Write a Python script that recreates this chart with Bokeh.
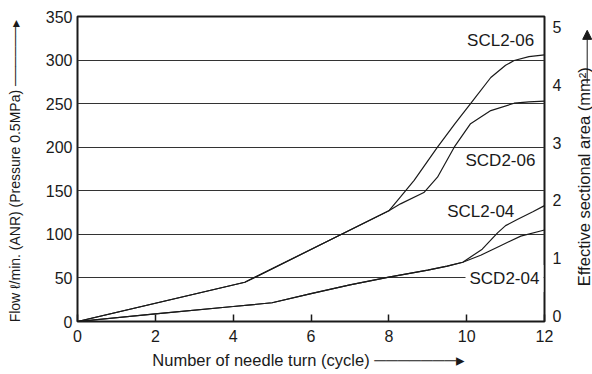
import math
from bokeh.plotting import figure
from bokeh.models import Range1d, LinearAxis, FixedTicker, Label, Arrow, NormalHead
from bokeh.layouts import row
from bokeh.embed import file_html
from bokeh.resources import INLINE

# ---- data ----
scl206_x = [0, 4.3, 8.0, 8.3, 8.65, 9.25, 9.7, 10.1, 10.62, 11.0, 11.22, 11.6, 12]
scl206_y = [0, 45, 127, 143, 162, 200, 227, 250, 280, 294, 299.5, 304, 306]

scd206_x = [0, 4.3, 8.0, 8.3, 8.9, 9.25, 9.68, 10.1, 10.62, 11.22, 11.6, 12]
scd206_y = [0, 45, 127, 135, 148, 165.6, 200, 227, 242, 250.5, 252, 253]

scl204_x = [0, 2, 4, 5, 6, 7, 8, 8.5, 9, 9.5, 9.9, 10.4, 10.8, 11.0, 11.3, 11.7, 12]
scl204_y = [0, 8.8, 17.2, 21.5, 32, 42, 51, 55, 59, 63.5, 68, 83, 102, 110, 117, 126, 133]

scd204_x = [0, 2, 4, 5, 6, 7, 8, 8.5, 9, 9.5, 9.9, 10.36, 10.87, 11.39, 12]
scd204_y = [0, 8.8, 17.2, 21.5, 32, 42, 51, 55, 59, 63.5, 68, 76, 87, 98, 105]

x_ticks = [0, 2, 4, 6, 8, 10, 12]
flow_ticks = [0, 50, 100, 150, 200, 250, 300, 350]
area_ticks = [0, 1, 2, 3, 4, 5]

series_labels = ["SCL2-06", "SCD2-06", "SCL2-04", "SCD2-04"]
label_pos = [(10.01, 322.5), (9.97, 184.8), (9.5, 126.2), (9.97, 49.3)]

x_title = "Number of needle turn (cycle)  " + "\u2500" * 7 + "\u25b8"
left_title = "Flow  \u2113/min. (ANR) (Pressure 0.5MPa) " + "\u2500" * 6 + "\u25b8"
right_title = "Effective sectional area (mm\u00b2)"

FONT = "Liberation Sans"
INK = "#1a1a1a"

p = figure(width=570, height=374, output_backend="svg", toolbar_location=None,
           x_range=Range1d(0, 12), y_range=Range1d(0, 350),
           min_border_left=77, min_border_right=26, min_border_top=16, min_border_bottom=53)
p.extra_y_ranges = {"area": Range1d(-0.1, 5.183)}

p.outline_line_color = INK
p.outline_line_width = 2
p.background_fill_color = "white"
p.border_fill_color = "white"

# bottom axis
xa = p.xaxis[0]
xa.ticker = FixedTicker(ticks=x_ticks)
xa.axis_line_color = None
xa.major_tick_in = 7
xa.major_tick_out = 0
xa.major_tick_line_width = 1.5
xa.major_tick_line_color = INK
xa.minor_tick_line_color = None
xa.major_label_standoff = 8
xa.major_label_text_font = FONT
xa.major_label_text_font_size = "16px"
xa.major_label_text_color = INK
xa.axis_label = x_title
xa.axis_label_text_font = FONT
xa.axis_label_text_font_size = "16.5px"
xa.axis_label_text_font_style = "normal"
xa.axis_label_text_color = INK
xa.axis_label_standoff = 6

# left axis
ya = p.yaxis[0]
ya.ticker = FixedTicker(ticks=flow_ticks)
ya.axis_line_color = None
ya.major_tick_in = 0
ya.major_tick_out = 0
ya.minor_tick_line_color = None
ya.major_label_standoff = 5
ya.major_label_text_font = FONT
ya.major_label_text_font_size = "16px"
ya.major_label_text_color = INK
ya.axis_label = left_title
ya.axis_label_text_font = FONT
ya.axis_label_text_font_size = "14px"
ya.axis_label_text_font_style = "normal"
ya.axis_label_text_color = INK
ya.axis_label_standoff = 20

# right axis (area scale)
ra = LinearAxis(y_range_name="area", ticker=FixedTicker(ticks=area_ticks))
ra.axis_line_color = None
ra.major_tick_in = 0
ra.major_tick_out = 0
ra.minor_tick_line_color = None
ra.major_label_standoff = 8
ra.major_label_text_font = FONT
ra.major_label_text_font_size = "16px"
ra.major_label_text_color = INK
p.add_layout(ra, "right")

p.xgrid.grid_line_color = None
p.ygrid.ticker = FixedTicker(ticks=flow_ticks)
p.ygrid.grid_line_color = "#333333"
p.ygrid.grid_line_width = 1

for xs, ys in [(scl206_x, scl206_y), (scd206_x, scd206_y), (scl204_x, scl204_y), (scd204_x, scd204_y)]:
    p.line(xs, ys, line_color=INK, line_width=1.2)

for txt, (lx, ly) in zip(series_labels, label_pos):
    kw = {}
    if txt == "SCD2-04":
        kw = dict(background_fill_color="white", padding=4)
    p.add_layout(Label(x=lx, y=ly, text=txt, text_align="left", text_baseline="middle",
                       text_font=FONT, text_font_size="17px", text_color=INK, **kw))

# right strip carrying the right-axis title (reads bottom to top) and its arrow
s = figure(width=22, height=374, output_backend="svg", toolbar_location=None,
           x_range=Range1d(0, 22), y_range=Range1d(0, 374),
           x_axis_type=None, y_axis_type=None,
           min_border_left=0, min_border_right=0, min_border_top=0, min_border_bottom=0)
s.outline_line_color = None
s.grid.grid_line_color = None
s.background_fill_color = "white"
s.border_fill_color = "white"
s.add_layout(Label(x=13, y=177.5, text=right_title, angle=math.pi / 2,
                   text_align="center", text_baseline="middle",
                   text_font=FONT, text_font_size="16.5px", text_color=INK))
s.add_layout(Arrow(x_start=16.7, y_start=292, x_end=16.7, y_end=357,
                   line_color=INK, line_width=1,
                   end=NormalHead(size=9, fill_color=INK, line_color=INK, line_width=1)))

layout = row(p, s, spacing=0)
open("out.html", "w").write(file_html(layout, INLINE))
